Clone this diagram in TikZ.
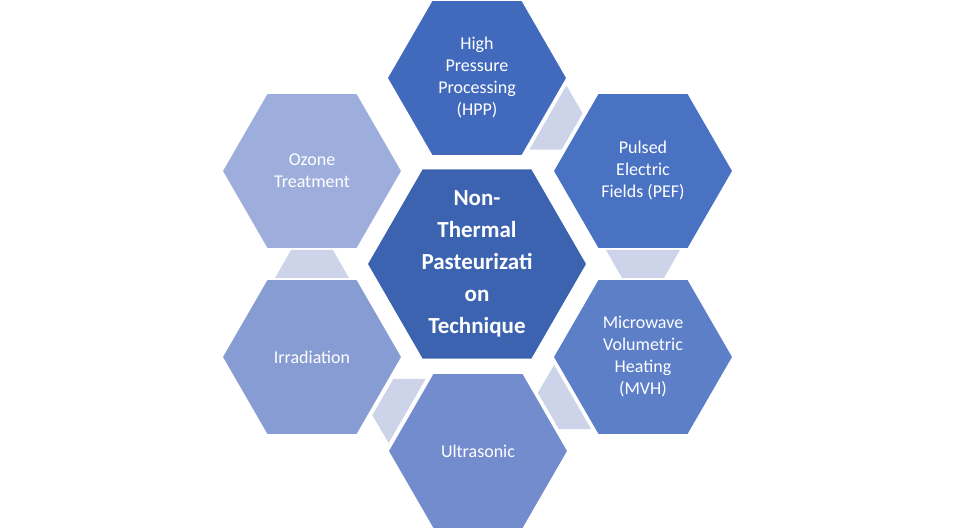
\documentclass[tikz,border=0pt]{standalone}
\usepackage{fontspec}
\setmainfont{Carlito}
\usetikzlibrary{shapes.geometric,calc}
\begin{document}
\begin{tikzpicture}[x=1pt,y=-1pt,
  hex/.style={regular polygon,regular polygon sides=6,inner sep=0pt,draw=white,line width=1.5pt,minimum size=180pt},
  lbl/.style={text=white,align=center,font=\fontsize{18}{22}\selectfont},
  conn/.style={fill=conncol}]
\definecolor{conncol}{HTML}{CDD4EA}
\definecolor{c0}{HTML}{3C63B0}
\definecolor{c1}{HTML}{4169BC}
\definecolor{c2}{HTML}{4A72C3}
\definecolor{c3}{HTML}{5C7FC8}
\definecolor{c4}{HTML}{728CCD}
\definecolor{c5}{HTML}{879CD3}
\definecolor{c6}{HTML}{9EAEDC}
\useasboundingbox (0,0) rectangle (956,529);
\node[hex,fill=c1] (hpp) at (477,78) {};
\node[hex,fill=c2] (pef) at (643,171) {};
\node[hex,fill=c3] (mvh) at (643,357) {};
\node[hex,fill=c4] (ult) at (478,451) {};
\node[hex,fill=c5] (irr) at (312,357) {};
\node[hex,fill=c6] (ozo) at (312,171) {};
\node[hex,fill=c0,minimum size=220pt] (ctr) at (477,264) {};
\foreach \a/\b/\ang in {hpp/pef/-30,pef/mvh/-90,mvh/ult/-150,ult/irr/150,irr/ozo/90}{
  \begin{scope}[shift={($(\a)!0.5!(\b)$)},rotate=\ang]
    \fill[conn] (-14,-37) -- (-14,37) -- (14,21) -- (14,-21) -- cycle;
  \end{scope}
}
\node[lbl] (thpp) at (hpp) {High\\Pressure\\Processing\\(HPP)};
\node[lbl] (tpef) at (pef) {Pulsed\\Electric\\Fields (PEF)};
\node[lbl] (tmvh) at (mvh) {Microwave\\Volumetric\\Heating\\(MVH)};
\node[lbl] (tult) at (ult) {Ultrasonic};
\node[lbl] (tirr) at (irr) {Irradiation};
\node[lbl] (tozo) at (ozo) {Ozone\\Treatment};
\node[lbl,font=\fontsize{23}{32}\selectfont\bfseries] (tctr) at (ctr) {Non-\\Thermal\\Pasteurizati\\on\\Technique};
\end{tikzpicture}
\end{document}
